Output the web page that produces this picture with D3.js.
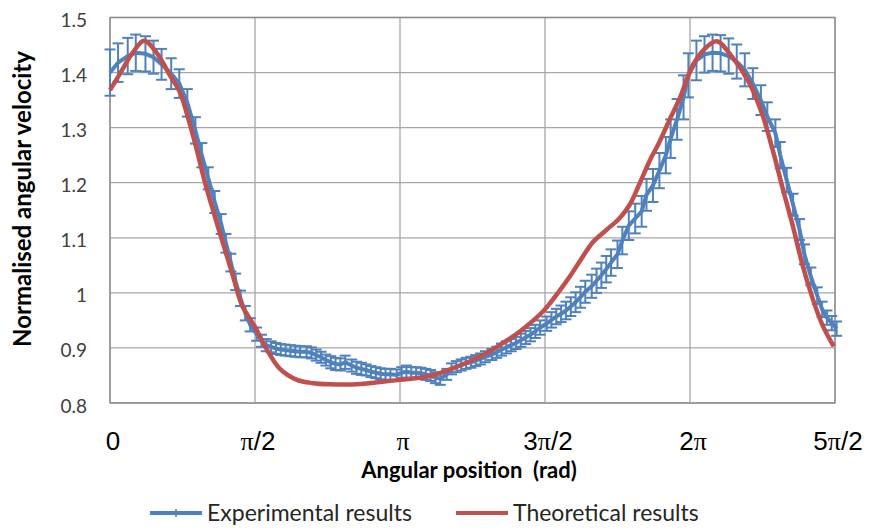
<!DOCTYPE html>
<html>
<head>
<meta charset="utf-8">
<script src="https://cdn.jsdelivr.net/npm/d3@7"></script>
<style>
  body { margin: 0; background: #fff; }
  svg { display: block; }
</style>
</head>
<body>
<svg id="chart" width="874" height="531"></svg>
<script>
// angular position in degrees, normalised velocity, error (+/-)
var expDeg = [0,5,11,16,22,27,32,38,43,48,53,57,61,65,69,72,75,78,81,84,87,
  91,94,97,100,103,106,109,112,115,118,122,125,128,131,134,137,140,143,146,150,
  153,156,159,162,165,168,171,174,178,181,184,187,190,193,196,199,202,205,209,
  212,215,218,221,224,227,230,233,237,240,243,246,249,252,255,258,261,264,267,
  271,274,277,280,283,286,289,292,295,299,302,305,308,311,315,318,322,326,330,
  333,337,341,345,348,352,356,359,364,369,374,379,384,389,394,399,404,408,413,
  416,420,424,428,431,435,439,442,445,448,451];
var expVal = [1.400,1.418,1.430,1.436,1.434,1.428,1.415,1.398,1.380,1.345,1.295,
  1.250,1.208,1.165,1.125,1.090,1.055,1.020,0.990,0.963,0.942,
  0.925,0.913,0.905,0.902,0.899,0.897,0.896,0.895,0.894,0.893,0.893,0.891,0.887,
  0.883,0.878,0.874,0.871,0.870,0.874,0.868,0.864,0.862,0.860,0.857,0.855,0.853,
  0.852,0.852,0.851,0.855,0.857,0.855,0.855,0.854,0.852,0.850,0.846,0.844,0.852,
  0.862,0.866,0.869,0.872,0.874,0.877,0.880,0.884,0.888,0.892,0.897,0.901,0.905,
  0.909,0.914,0.919,0.924,0.930,0.937,0.944,0.951,0.957,0.962,0.968,0.975,0.983,
  0.992,1.002,1.012,1.022,1.032,1.043,1.055,1.070,1.095,1.122,1.135,1.148,1.178,
  1.195,1.222,1.250,1.280,1.315,1.355,1.395,1.422,1.433,1.436,1.435,1.430,1.420,
  1.405,1.380,1.350,1.320,1.290,1.250,1.205,1.160,1.115,1.070,1.030,0.995,0.970,
  0.955,0.945,0.935];
var expErr = [0.042,0.035,0.033,0.033,0.032,0.030,0.028,0.028,0.026,0.025,0.024,
  0.022,0.020,0.020,0.018,0.017,0.016,0.015,0.014,0.013,0.012,
  0.012,0.011,0.011,0.010,0.010,0.010,0.010,0.010,0.010,0.010,0.010,0.010,0.010,
  0.010,0.010,0.011,0.011,0.011,0.012,0.011,0.011,0.011,0.010,0.010,0.010,0.010,
  0.010,0.010,0.010,0.010,0.011,0.010,0.010,0.010,0.010,0.010,0.010,0.011,0.010,
  0.010,0.010,0.010,0.010,0.010,0.010,0.010,0.010,0.010,0.010,0.011,0.011,0.011,
  0.011,0.012,0.012,0.012,0.012,0.013,0.013,0.014,0.014,0.015,0.016,0.017,0.018,
  0.019,0.020,0.021,0.022,0.023,0.024,0.024,0.025,0.025,0.026,0.027,0.028,0.029,
  0.030,0.032,0.033,0.035,0.037,0.040,0.040,0.036,0.033,0.033,0.033,0.032,0.031,
  0.030,0.028,0.027,0.026,0.025,0.024,0.022,0.020,0.019,0.018,0.016,0.015,0.014,
  0.013,0.013,0.013];

var theoDeg = [0,6.2,14.3,21.1,29.2,37.2,43.4,48.4,53.4,59.0,67.0,75.7,81.9,90.6,
  96.8,105.5,116.1,126.0,136.6,153.3,167.6,180.0,198.6,212.9,234.0,243.9,254.4,
  269.3,279.3,285.5,291.7,299.7,308.4,316.4,322.6,328.8,335.0,341.2,347.4,353.6,
  361.7,369.1,376.6,386.5,397.0,405.1,411.3,417.5,423.7,429.9,436.1,442.3,449.2];
var theoVal = [1.368,1.398,1.437,1.458,1.435,1.395,1.364,1.318,1.265,1.200,1.120,
  1.037,0.978,0.935,0.900,0.862,0.842,0.836,0.834,0.834,0.838,0.842,0.849,0.863,
  0.891,0.909,0.930,0.968,1.005,1.030,1.058,1.092,1.115,1.136,1.160,1.199,1.240,
  1.275,1.315,1.353,1.413,1.443,1.457,1.427,1.380,1.322,1.260,1.190,1.123,1.050,
  0.990,0.941,0.903];

var xTicks = [0, 90, 180, 270, 360, 450];
var xTickLabels = ["0", "π/2", "π", "3π/2", "2π", "5π/2"];
var yTicks = [0.8, 0.9, 1.0, 1.1, 1.2, 1.3, 1.4, 1.5];
var seriesNames = ["Experimental results", "Theoretical results"];

var blue = "#4f81bd", red = "#c0504d";
var pLeft = 110, pRight = 835, pTop = 17.5, pBottom = 403;
var font = "Lato, 'Noto Sans', sans-serif";

var svg = d3.select("#chart");

var x = d3.scaleLinear().domain([0, 450]).range([pLeft, pRight]);
var y = d3.scaleLinear().domain([0.8, 1.5]).range([pBottom, pTop]);

// grid
var grid = svg.append("g").attr("class", "grid");
grid.selectAll("line.h").data(yTicks).enter().append("line")
  .attr("x1", pLeft).attr("x2", pRight)
  .attr("y1", function(d){ return y(d); }).attr("y2", function(d){ return y(d); })
  .attr("stroke", "#a6a6a6").attr("stroke-width", 1.3);
grid.selectAll("line.v").data(xTicks).enter().append("line")
  .attr("y1", pTop).attr("y2", pBottom)
  .attr("x1", function(d){ return x(d); }).attr("x2", function(d){ return x(d); })
  .attr("stroke", "#a6a6a6").attr("stroke-width", 1.3);

// y tick labels
svg.append("g").selectAll("text").data(yTicks).enter().append("text")
  .attr("x", 87).attr("y", function(d){ return y(d) + 9.5; })
  .attr("text-anchor", "end")
  .attr("font-family", font).attr("font-size", 19)
  .attr("fill", "#404040")
  .text(function(d){ return d == 1 ? "1" : d3.format(".1f")(d); });

// x tick labels (pi in a serif face, like the Symbol font)
var xl = svg.append("g").selectAll("text").data(xTicks).enter().append("text")
  .attr("x", function(d){ return x(d) + 3; }).attr("y", 450)
  .attr("text-anchor", "middle")
  .attr("font-family", "'Liberation Sans', Arial, sans-serif").attr("font-size", 26)
  .attr("fill", "#000");
xl.each(function(d, i){
  var t = d3.select(this);
  var parts = xTickLabels[i].split("π");
  t.append("tspan").text(parts[0]);
  if(parts.length > 1){
    t.append("tspan").attr("font-family", "'Liberation Serif', serif").text("π");
    t.append("tspan").text(parts[1]);
  }
});

// axis titles
svg.append("text")
  .attr("x", 469).attr("y", 478).attr("text-anchor", "middle")
  .attr("font-family", font).attr("font-weight", "bold")
  .attr("font-size", 22).attr("fill", "#000")
  .attr("xml:space", "preserve")
  .text("Angular position  (rad)");

svg.append("text")
  .attr("transform", "translate(31, 199) rotate(-90)")
  .attr("text-anchor", "middle")
  .attr("font-family", font).attr("font-weight", "bold")
  .attr("font-size", 24).attr("fill", "#000")
  .text("Normalised angular velocity");

// plot border
svg.append("rect")
  .attr("x", pLeft).attr("y", pTop).attr("width", pRight - pLeft).attr("height", pBottom - pTop)
  .attr("fill", "none").attr("stroke", "#8c8c8c").attr("stroke-width", 1.3);

var expData = expDeg.map(function(d, i){ return {a: d, v: expVal[i], e: expErr[i]}; });
var theoData = theoDeg.map(function(d, i){ return {a: d, v: theoVal[i]}; });

// error bars
var bars = svg.append("g").attr("class", "errbars").selectAll("g").data(expData).enter().append("g")
  .attr("stroke", blue).attr("stroke-width", 2);
bars.append("line")
  .attr("x1", function(d){ return x(d.a); }).attr("x2", function(d){ return x(d.a); })
  .attr("y1", function(d){ return y(d.v - d.e); }).attr("y2", function(d){ return y(d.v + d.e); });
bars.append("line")
  .attr("x1", function(d){ return x(d.a) - 5.5; }).attr("x2", function(d){ return x(d.a) + 5.5; })
  .attr("y1", function(d){ return y(d.v + d.e); }).attr("y2", function(d){ return y(d.v + d.e); });
bars.append("line")
  .attr("x1", function(d){ return x(d.a) - 5.5; }).attr("x2", function(d){ return x(d.a) + 5.5; })
  .attr("y1", function(d){ return y(d.v - d.e); }).attr("y2", function(d){ return y(d.v - d.e); });

var lineExp = d3.line().x(function(d){ return x(d.a); }).y(function(d){ return y(d.v); });
var lineTheo = d3.line().x(function(d){ return x(d.a); }).y(function(d){ return y(d.v); })
  .curve(d3.curveCatmullRom);

svg.append("path").datum(expData).attr("d", lineExp)
  .attr("fill", "none").attr("stroke", blue).attr("stroke-width", 4)
  .attr("stroke-linejoin", "round");

svg.append("path").datum(theoData).attr("d", lineTheo)
  .attr("fill", "none").attr("stroke", red).attr("stroke-width", 4.5)
  .attr("stroke-linejoin", "round");

// legend
var legend = svg.append("g").attr("class", "legend");
var legX = [150, 456];
var legColors = [blue, red];
seriesNames.forEach(function(name, i){
  legend.append("line")
    .attr("x1", legX[i]).attr("x2", legX[i] + 52).attr("y1", 513).attr("y2", 513)
    .attr("stroke", legColors[i]).attr("stroke-width", 4);
  if(i == 0){
    legend.append("line")
      .attr("x1", legX[i] + 26).attr("x2", legX[i] + 26).attr("y1", 509).attr("y2", 517)
      .attr("stroke", blue).attr("stroke-width", 1.6);
  }
  legend.append("text")
    .attr("x", legX[i] + 57).attr("y", 521)
    .attr("font-family", font).attr("font-size", 23)
    .attr("fill", "#262626")
    .text(name);
});
</script>
</body>
</html>
